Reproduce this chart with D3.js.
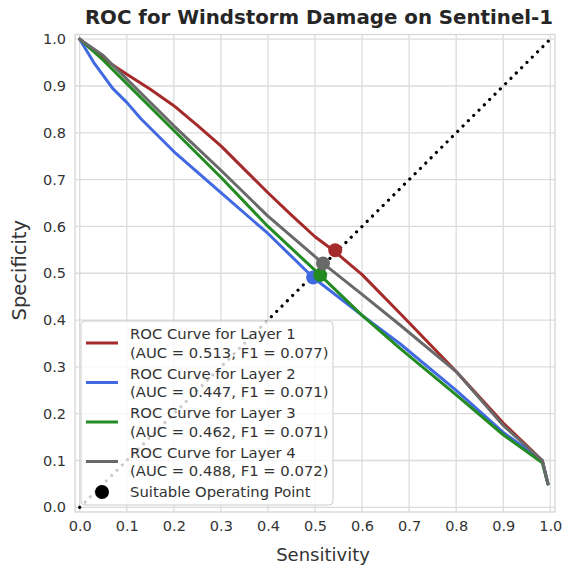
<!DOCTYPE html>
<html>
<head>
<meta charset="utf-8">
<script src="https://cdn.jsdelivr.net/npm/d3@7"></script>
<style>
  body { margin: 0; background: white; }
  text { font-family: "DejaVu Sans", sans-serif; }
</style>
</head>
<body>
<div id="chart"></div>
<script>
// ROC curves (sensitivity, specificity)
const layerNames = ["Layer 1", "Layer 2", "Layer 3", "Layer 4"];
const aucValues = [0.513, 0.447, 0.462, 0.488];
const f1Values = [0.077, 0.071, 0.071, 0.072];
const layerColors = ["#a52a2a", "#4169e1", "#228b22", "#696969"];

const sensLayer1 = [0, 0.05, 0.1, 0.15, 0.2, 0.25, 0.3, 0.35, 0.4, 0.45, 0.5, 0.54, 0.6, 0.68, 0.8, 0.9, 0.983, 0.995];
const specLayer1 = [1, 0.958, 0.925, 0.893, 0.858, 0.816, 0.772, 0.722, 0.672, 0.624, 0.578, 0.548, 0.497, 0.415, 0.29, 0.18, 0.1, 0.05];
const sensLayer2 = [0, 0.03, 0.07, 0.1, 0.13, 0.2, 0.3, 0.4, 0.496, 0.6, 0.68, 0.8, 0.9, 0.983, 0.995];
const specLayer2 = [1, 0.95, 0.895, 0.865, 0.83, 0.76, 0.672, 0.585, 0.491, 0.41, 0.35, 0.25, 0.16, 0.1, 0.05];
const sensLayer3 = [0, 0.05, 0.1, 0.2, 0.3, 0.4, 0.511, 0.6, 0.68, 0.8, 0.9, 0.983, 0.995];
const specLayer3 = [1, 0.955, 0.905, 0.805, 0.705, 0.6, 0.496, 0.41, 0.34, 0.24, 0.155, 0.095, 0.05];
const sensLayer4 = [0, 0.05, 0.1, 0.2, 0.3, 0.4, 0.517, 0.6, 0.68, 0.8, 0.9, 0.983, 0.995];
const specLayer4 = [1, 0.965, 0.915, 0.815, 0.72, 0.622, 0.521, 0.455, 0.39, 0.29, 0.175, 0.1, 0.05];

// Suitable operating point for each layer
const opSens = [0.543, 0.496, 0.511, 0.517];
const opSpec = [0.549, 0.491, 0.496, 0.521];

const tickValues = [0, 0.1, 0.2, 0.3, 0.4, 0.5, 0.6, 0.7, 0.8, 0.9, 1.0];

const allSens = [sensLayer1, sensLayer2, sensLayer3, sensLayer4];
const allSpec = [specLayer1, specLayer2, specLayer3, specLayer4];

const width = 565, height = 566;
const margin = {top: 34.5, right: 10, bottom: 54, left: 75};
const plotW = width - margin.left - margin.right;
const plotH = height - margin.top - margin.bottom;

const svg = d3.select("#chart").append("svg")
    .attr("width", width)
    .attr("height", height);

const g = svg.append("g")
    .attr("transform", "translate(" + margin.left + "," + margin.top + ")");

const x = d3.scaleLinear().domain([-0.01, 1.01]).range([0, plotW]);
const y = d3.scaleLinear().domain([-0.01, 1.01]).range([plotH, 0]);

// Grid
g.append("g").selectAll("line").data(tickValues).join("line")
    .attr("x1", d => x(d)).attr("x2", d => x(d))
    .attr("y1", 0).attr("y2", plotH)
    .attr("stroke", "#dcdcdc").attr("stroke-width", 1.3);
g.append("g").selectAll("line").data(tickValues).join("line")
    .attr("y1", d => y(d)).attr("y2", d => y(d))
    .attr("x1", 0).attr("x2", plotW)
    .attr("stroke", "#dcdcdc").attr("stroke-width", 1.3);

// Axes (labels only, seaborn whitegrid style)
const xAxis = g.append("g")
    .attr("transform", "translate(0," + plotH + ")")
    .call(d3.axisBottom(x).tickValues(tickValues).tickFormat(d3.format(".1f")).tickSize(0).tickPadding(9));
const yAxis = g.append("g")
    .call(d3.axisLeft(y).tickValues(tickValues).tickFormat(d3.format(".1f")).tickSize(0).tickPadding(9));
[xAxis, yAxis].forEach(a => {
    a.select(".domain").remove();
    a.selectAll("text").style("font-size", "14.5px").attr("fill", "#333").style("font-family", "DejaVu Sans");
});

// Spines
g.append("rect")
    .attr("width", plotW).attr("height", plotH)
    .attr("fill", "none").attr("stroke", "#d6d6d6").attr("stroke-width", 1.3);

// Diagonal reference
g.append("line")
    .attr("x1", x(0)).attr("y1", y(0))
    .attr("x2", x(1)).attr("y2", y(1))
    .attr("stroke", "black").attr("stroke-width", 3.2)
    .attr("stroke-dasharray", "0.01,7.5").attr("stroke-linecap", "round");

// ROC curves
const line = d3.line()
    .x(d => x(d[0]))
    .y(d => y(d[1]));

allSens.forEach((sens, i) => {
    const pts = sens.map((s, k) => [s, allSpec[i][k]]);
    g.append("path")
        .datum(pts)
        .attr("fill", "none")
        .attr("stroke", layerColors[i])
        .attr("stroke-width", 3)
        .attr("stroke-linejoin", "round")
        .attr("stroke-linecap", "round")
        .attr("d", line);
});

// Operating points
opSens.forEach((s, i) => {
    g.append("circle")
        .attr("cx", x(s)).attr("cy", y(opSpec[i]))
        .attr("r", 7)
        .attr("fill", layerColors[i]);
});

// Legend
const legend = svg.append("g").attr("transform", "translate(81,321)");
legend.append("rect")
    .attr("width", 252).attr("height", 184)
    .attr("rx", 4)
    .attr("fill", "white").attr("fill-opacity", 0.8)
    .attr("stroke", "#cccccc").attr("stroke-width", 1);

layerNames.forEach((name, i) => {
    const cy = 22 + i * 39.5;
    legend.append("line")
        .attr("x1", 5).attr("x2", 37)
        .attr("y1", cy).attr("y2", cy)
        .attr("stroke", layerColors[i]).attr("stroke-width", 3);
    const t = legend.append("text")
        .attr("x", 49).attr("y", cy - 4)
        .style("font-size", "14.8px").attr("fill", "#333");
    t.append("tspan").attr("x", 49).text("ROC Curve for " + name);
    t.append("tspan").attr("x", 49).attr("dy", 18.5)
        .text("(AUC = " + aucValues[i].toFixed(3) + ", F1 = " + f1Values[i].toFixed(3) + ")");
});
legend.append("circle").attr("cx", 21).attr("cy", 171).attr("r", 7).attr("fill", "black");
legend.append("text").attr("x", 49).attr("y", 176)
    .style("font-size", "14.8px").attr("fill", "#333")
    .text("Suitable Operating Point");

// Title and axis labels
svg.append("text")
    .attr("x", margin.left + plotW / 2 + 4).attr("y", 24)
    .attr("text-anchor", "middle")
    .style("font-size", "19.8px").style("font-weight", "bold").attr("fill", "#262626")
    .text("ROC for Windstorm Damage on Sentinel-1");

svg.append("text")
    .attr("x", margin.left + plotW / 2 + 8).attr("y", 561)
    .attr("text-anchor", "middle")
    .style("font-size", "18px").attr("fill", "#333")
    .text("Sensitivity");

svg.append("text")
    .attr("transform", "translate(26," + (margin.top + plotH / 2 - 3) + ") rotate(-90)")
    .attr("text-anchor", "middle")
    .style("font-size", "19.5px").attr("fill", "#333")
    .text("Specificity");
</script>
</body>
</html>
